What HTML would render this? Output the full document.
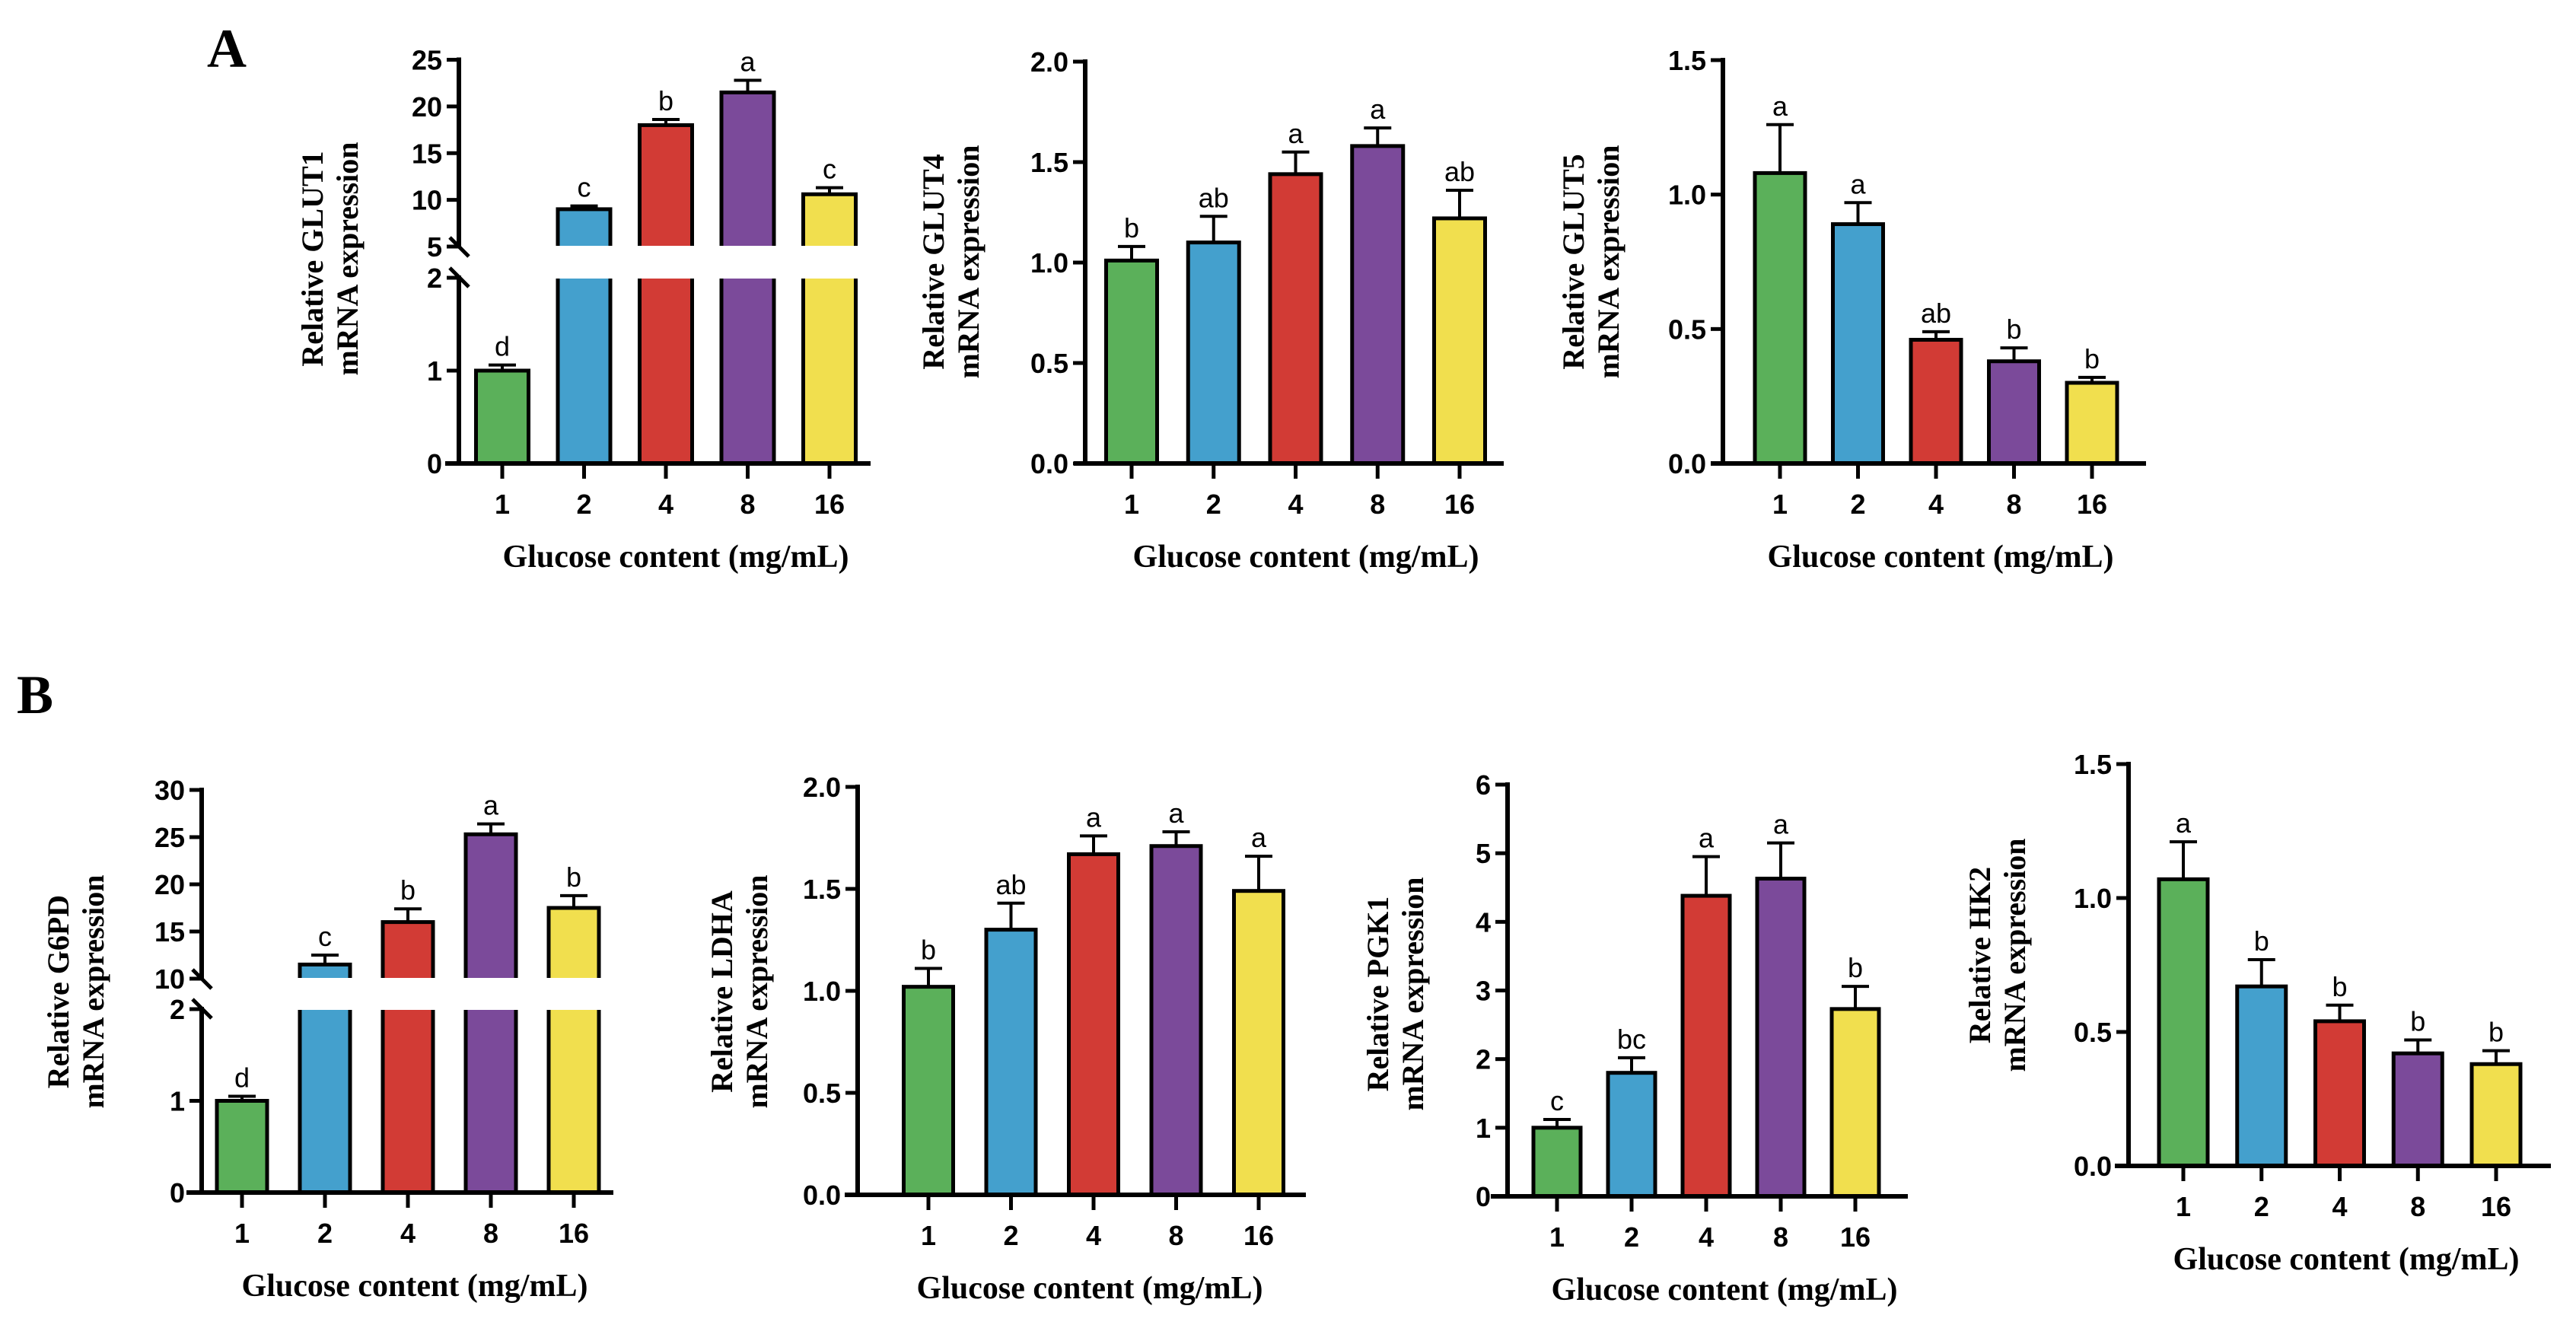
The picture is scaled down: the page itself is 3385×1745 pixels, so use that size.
<!DOCTYPE html>
<html><head><meta charset="utf-8"><style>
html,body{margin:0;padding:0;background:#fff;}
svg{display:block;}
.tk{font-family:"Liberation Sans",Arial,sans-serif;font-weight:bold;font-size:36px;fill:#000;}
.lt{font-family:"Liberation Sans",Arial,sans-serif;font-size:36px;fill:#000;}
.xl{font-family:"Liberation Serif","Times New Roman",serif;font-weight:bold;font-size:42px;fill:#000;}
.yl{font-family:"Liberation Serif","Times New Roman",serif;font-weight:bold;font-size:40px;fill:#000;}
.pl{font-family:"Liberation Serif","Times New Roman",serif;font-weight:bold;font-size:72px;fill:#000;}
</style></head><body>
<svg id="fig" width="3385" height="1745" viewBox="0 0 3385 1745" xmlns="http://www.w3.org/2000/svg">
<text class="pl" x="272" y="88">A</text>
<text class="pl" x="22" y="937">B</text>
</svg>
<script>
// ---- data ----
const categories = ['1','2','4','8','16'];
const colors = ['#5bb05a','#44a0cd','#d23b35','#7b4a9a','#f1df4e'];

const glut1Values = [1.0, 9.0, 18.0, 21.5, 10.6];
const glut1Errors = [0.06, 0.35, 0.6, 1.3, 0.7];
const glut1Letters = ['d','c','b','a','c'];

const glut4Values = [1.01, 1.10, 1.44, 1.58, 1.22];
const glut4Errors = [0.07, 0.13, 0.11, 0.09, 0.14];
const glut4Letters = ['b','ab','a','a','ab'];

const glut5Values = [1.08, 0.89, 0.46, 0.38, 0.30];
const glut5Errors = [0.18, 0.08, 0.03, 0.05, 0.02];
const glut5Letters = ['a','a','ab','b','b'];

const g6pdValues = [1.0, 11.5, 16.0, 25.3, 17.5];
const g6pdErrors = [0.05, 1.0, 1.4, 1.1, 1.3];
const g6pdLetters = ['d','c','b','a','b'];

const ldhaValues = [1.02, 1.30, 1.67, 1.71, 1.49];
const ldhaErrors = [0.09, 0.13, 0.09, 0.07, 0.17];
const ldhaLetters = ['b','ab','a','a','a'];

const pgk1Values = [1.0, 1.8, 4.38, 4.63, 2.73];
const pgk1Errors = [0.12, 0.22, 0.57, 0.52, 0.33];
const pgk1Letters = ['c','bc','a','a','b'];

const hk2Values = [1.07, 0.67, 0.54, 0.42, 0.38];
const hk2Errors = [0.14, 0.10, 0.06, 0.05, 0.05];
const hk2Letters = ['a','b','b','b','b'];

const ticks2 = ['0.0','0.5','1.0','1.5','2.0'];
const ticks15 = ['0.0','0.5','1.0','1.5'];
const ticks6 = ['0','1','2','3','4','5','6'];
const glut1LowTicks = ['0','1','2'];
const glut1HighTicks = ['5','10','15','20','25'];
const g6pdLowTicks = ['0','1','2'];
const g6pdHighTicks = ['10','15','20','25','30'];

// ---- drawing ----
const NS = 'http://www.w3.org/2000/svg';
const svg = document.getElementById('fig');
function mk(tag, attrs, parent){
  const e = document.createElementNS(NS, tag);
  for (const k in attrs) e.setAttribute(k, attrs[k]);
  (parent||svg).appendChild(e);
  return e;
}

function drawChart(c){
  const g = mk('g', {});
  
  
  let yScale;
  if (c.brk){
    const L = c.brk.low, H = c.brk.high;
    yScale = v => v <= L.v1 ? L.y0 + (v - L.v0) * (L.y1 - L.y0) / (L.v1 - L.v0)
                             : H.y0 + (v - H.v0) * (H.y1 - H.y0) / (H.v1 - H.v0);
  } else {
    yScale = v => c.y0 + (v - c.v0) * (c.y1 - c.y0) / (c.v1 - c.v0);
  }
  const step = (c.cLast - c.cFirst) / (categories.length - 1);
  const xScale = i => c.cFirst + i * step;
  const baseY = yScale(0);

  c.values.forEach((v, i) => {
    const cx = xScale(i), top = yScale(v);
    const r = mk('rect', {x: cx - c.bw/2, y: top, width: c.bw, height: baseY - top,
      fill: colors[i], stroke: '#000', 'stroke-width': 5}, g);
    
    
    const et = yScale(v + c.errors[i]);
    const eb = mk('path', {d: `M${cx} ${top} V${et} M${cx-18} ${et} H${cx+18}`, stroke: '#000', 'stroke-width': 4, fill: 'none'}, g);
    
    
    const t = mk('text', {class: 'lt', x: cx, y: et - 12, 'text-anchor': 'middle'}, g);
    t.textContent = c.letters[i];
    
    
  });

  if (c.brk){
    const gy1 = c.brk.high.y0 - 1, gy2 = c.brk.low.y1 + 1;
    mk('rect', {x: c.axisX - 5, y: gy1, width: c.x1 - c.axisX + 10, height: gy2 - gy1, fill: '#fff'}, g);
    const s = mk('path', {d: `M${c.axisX-12} ${gy1-11} L${c.axisX+13} ${gy1+14} M${c.axisX-12} ${gy2-14} L${c.axisX+13} ${gy2+11}`,
      stroke: '#000', 'stroke-width': 5, fill: 'none'}, g);
    
    
  }

  const tickGroups = c.brk ? [[c.lowTicks, c.brk.low.y0, c.brk.low.y1], [c.highTicks, c.brk.high.y0, c.brk.high.y1]]
                           : [[c.ticks, c.y0, c.y1]];
  tickGroups.forEach(([tk, ya, yb]) => {
    const ya2 = c.brk ? ya : baseY;
    const ax = mk('line', {x1: c.axisX, x2: c.axisX, y1: ya2 + (tk === c.highTicks ? 0 : 3), y2: yb - 3, stroke: '#000', 'stroke-width': 6}, g);
    
    
    tk.forEach(lbl => {
      const y = yScale(parseFloat(lbl));
      mk('line', {x1: c.axisX - 16, x2: c.axisX, y1: y, y2: y, stroke: '#000', 'stroke-width': 5}, g);
      const t = mk('text', {class: 'tk', x: c.axisX - 22, y: y + 13, 'text-anchor': 'end'}, g);
      t.textContent = lbl;
      
      
    });
  });

  const xa = mk('line', {x1: c.x0, x2: c.x1, y1: baseY, y2: baseY, stroke: '#000', 'stroke-width': 6}, g);
  
  
  categories.forEach((cat, i) => {
    const cx = xScale(i);
    mk('line', {x1: cx, x2: cx, y1: baseY, y2: baseY + 20, stroke: '#000', 'stroke-width': 5}, g);
    const t = mk('text', {class: 'tk', x: cx, y: baseY + 66, 'text-anchor': 'middle'}, g);
    t.textContent = cat;
    
    
  });
  const xt = mk('text', {class: 'xl', x: c.xlX, y: baseY + 136, 'text-anchor': 'middle'}, g);
  xt.textContent = 'Glucose content (mg/mL)';
  
  

  const yt = mk('text', {class: 'yl', transform: `translate(${c.ylX},${c.ylY}) rotate(-90)`, 'text-anchor': 'middle'}, g);
  
  
  const l1 = mk('tspan', {x: 0, y: 0}, yt); l1.textContent = 'Relative ' + c.gene;
  const l2 = mk('tspan', {x: 0, y: 46}, yt); l2.textContent = 'mRNA expression';
}

drawChart({name:'glut1', gene:'GLUT1', values:glut1Values, errors:glut1Errors, letters:glut1Letters,
  axisX:603, x0:585, x1:1144, cFirst:660, cLast:1090, bw:69,
  brk:{low:{v0:0,v1:2,y0:609,y1:365}, high:{v0:5,v1:25,y0:324,y1:78.5}},
  lowTicks:glut1LowTicks, highTicks:glut1HighTicks, xlX:888, ylX:424, ylY:340});
drawChart({name:'glut4', gene:'GLUT4', values:glut4Values, errors:glut4Errors, letters:glut4Letters,
  axisX:1426, x0:1411, x1:1976, cFirst:1487, cLast:1918, bw:67,
  v0:0, v1:2, y0:609, y1:81, ticks:ticks2, xlX:1716, ylX:1240, ylY:344});
drawChart({name:'glut5', gene:'GLUT5', values:glut5Values, errors:glut5Errors, letters:glut5Letters,
  axisX:2264, x0:2248, x1:2820, cFirst:2339, cLast:2749, bw:66,
  v0:0, v1:1.5, y0:609, y1:79, ticks:ticks15, xlX:2550, ylX:2081, ylY:344});
drawChart({name:'g6pd', gene:'G6PD', values:g6pdValues, errors:g6pdErrors, letters:g6pdLetters,
  axisX:265, x0:245, x1:806, cFirst:318, cLast:754, bw:66,
  brk:{low:{v0:0,v1:2,y0:1567,y1:1326}, high:{v0:10,v1:30,y0:1286,y1:1038}},
  lowTicks:g6pdLowTicks, highTicks:g6pdHighTicks, xlX:545, ylX:90, ylY:1303});
drawChart({name:'ldha', gene:'LDHA', values:ldhaValues, errors:ldhaErrors, letters:ldhaLetters,
  axisX:1127, x0:1110, x1:1716, cFirst:1220, cLast:1654, bw:65,
  v0:0, v1:2, y0:1570, y1:1034, ticks:ticks2, xlX:1432, ylX:962, ylY:1303});
drawChart({name:'pgk1', gene:'PGK1', values:pgk1Values, errors:pgk1Errors, letters:pgk1Letters,
  axisX:1981, x0:1959, x1:2507, cFirst:2046, cLast:2438, bw:62,
  v0:0, v1:6, y0:1572, y1:1031, ticks:ticks6, xlX:2266, ylX:1824, ylY:1306});
drawChart({name:'hk2', gene:'HK2', values:hk2Values, errors:hk2Errors, letters:hk2Letters,
  axisX:2797, x0:2779, x1:3352, cFirst:2869, cLast:3280, bw:64,
  v0:0, v1:1.5, y0:1532, y1:1004, ticks:ticks15, xlX:3083, ylX:2615, ylY:1255});
</script>
</body></html>
